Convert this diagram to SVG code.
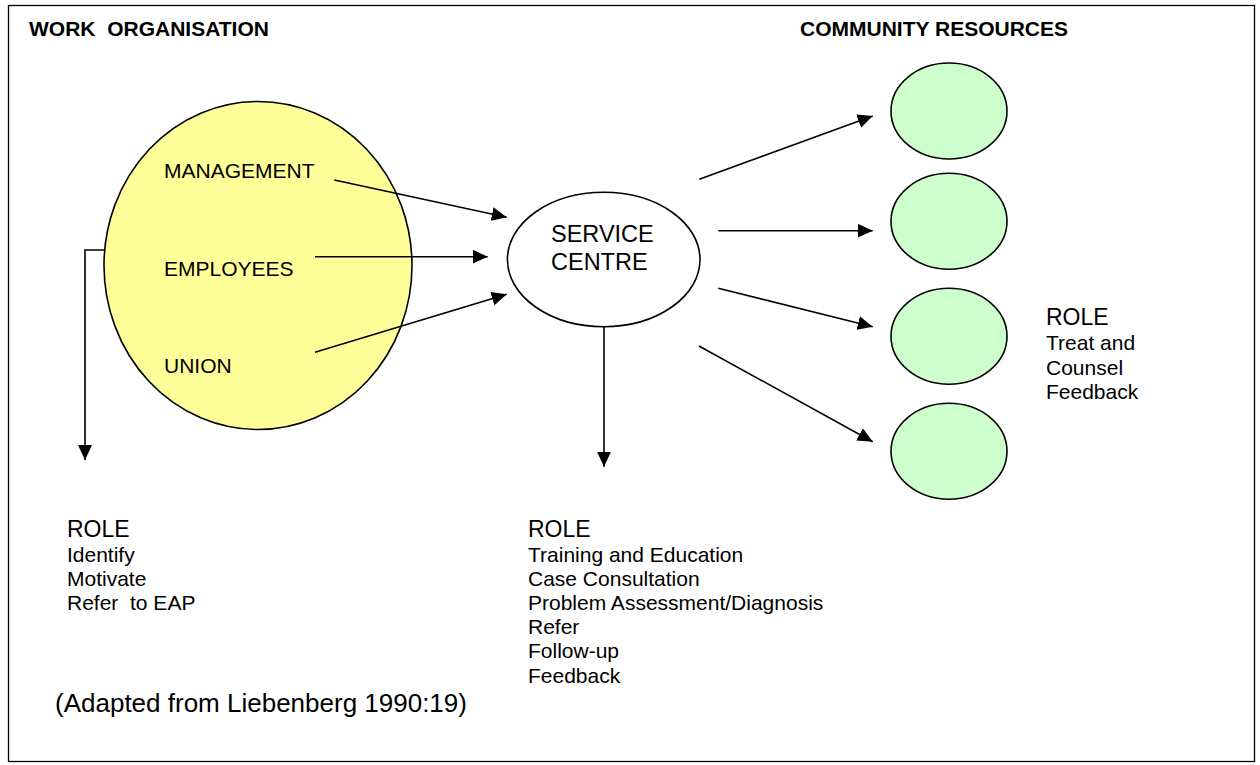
<svg xmlns="http://www.w3.org/2000/svg" width="1260" height="765" viewBox="0 0 1260 765">
<defs>
<style>
.t{font-family:"Liberation Sans",Arial,sans-serif;fill:#000}
.h{font-family:"Liberation Sans",Arial,sans-serif;font-weight:bold;font-size:21px;fill:#000}
.n{font-size:21px}
.r{font-size:23px}
.s{font-size:21px}
.c{fill:none;stroke:#000;stroke-width:1.6;marker-end:url(#ah)}
.yel{fill:#FFFF99;stroke:#000;stroke-width:1.6}
.grn{fill:#CCFFCC;stroke:#000;stroke-width:1.6}
.wht{fill:#FFFFFF;stroke:#000;stroke-width:1.6}
</style>
<marker id="ah" viewBox="0 0 15 14" refX="15" refY="7" markerWidth="15" markerHeight="14" markerUnits="userSpaceOnUse" orient="auto">
<path d="M0,0 L15,7 L0,14 Z" fill="#000"/>
</marker>
</defs>
<rect x="8.5" y="5.5" width="1246" height="756" fill="#fff" stroke="#000" stroke-width="1.3"/>
<text class="h" x="29" y="36" xml:space="preserve">WORK  ORGANISATION</text>
<text class="h" x="1068" y="36" text-anchor="end">COMMUNITY RESOURCES</text>

<g id="work-organisation">
<ellipse class="yel" cx="258" cy="265.5" rx="154" ry="164"/>
<text class="t n" x="164" y="178">MANAGEMENT</text>
<text class="t n" x="164" y="276">EMPLOYEES</text>
<text class="t n" x="164" y="373">UNION</text>
</g>

<g id="service-centre">
<ellipse class="wht" cx="603.7" cy="259.5" rx="96.3" ry="67.2"/>
<text class="t" style="font-size:23.5px" x="551" y="242">SERVICE</text>
<text class="t" style="font-size:23.5px" x="551" y="269.5">CENTRE</text>
</g>

<g id="resource-1"><ellipse class="grn" cx="949" cy="111" rx="58" ry="48"/></g>
<g id="resource-2"><ellipse class="grn" cx="949" cy="221.3" rx="58" ry="48"/></g>
<g id="resource-3"><ellipse class="grn" cx="949" cy="336.3" rx="58" ry="48"/></g>
<g id="resource-4"><ellipse class="grn" cx="949" cy="451.3" rx="58" ry="48"/></g>

<g id="role-community">
<text class="t r" x="1046" y="325">ROLE</text>
<text class="t s" x="1046" y="350">Treat and</text>
<text class="t s" x="1046" y="375">Counsel</text>
<text class="t s" x="1046" y="399">Feedback</text>
</g>

<g id="role-work">
<text class="t r" x="67" y="537">ROLE</text>
<text class="t s" x="67" y="561.5">Identify</text>
<text class="t s" x="67" y="585.5">Motivate</text>
<text class="t s" x="67" y="610" xml:space="preserve">Refer  to EAP</text>
</g>

<g id="role-service">
<text class="t r" x="528" y="537">ROLE</text>
<text class="t s" x="528" y="561.5">Training and Education</text>
<text class="t s" x="528" y="585.5">Case Consultation</text>
<text class="t s" x="528" y="610">Problem Assessment/Diagnosis</text>
<text class="t s" x="528" y="634">Refer</text>
<text class="t s" x="528" y="658">Follow-up</text>
<text class="t s" x="528" y="683">Feedback</text>
</g>

<text class="t" style="font-size:26px" x="55" y="712">(Adapted from Liebenberg 1990:19)</text>

<g id="connectors">
<line class="c" x1="334.3" y1="180" x2="506.7" y2="217.3"/>
<line class="c" x1="315" y1="256.7" x2="487.7" y2="256.7"/>
<line class="c" x1="315" y1="352.3" x2="506.7" y2="294.3"/>
<polyline class="c" points="104.5,250 85,250 85,460"/>
<line class="c" x1="604" y1="326.7" x2="604" y2="466.7"/>
<line class="c" x1="699.3" y1="179.3" x2="872.7" y2="116"/>
<line class="c" x1="718.3" y1="230.7" x2="872.7" y2="230.7"/>
<line class="c" x1="718.3" y1="288.3" x2="872.7" y2="326.7"/>
<line class="c" x1="699" y1="346" x2="872.7" y2="441.7"/>
</g>
</svg>
